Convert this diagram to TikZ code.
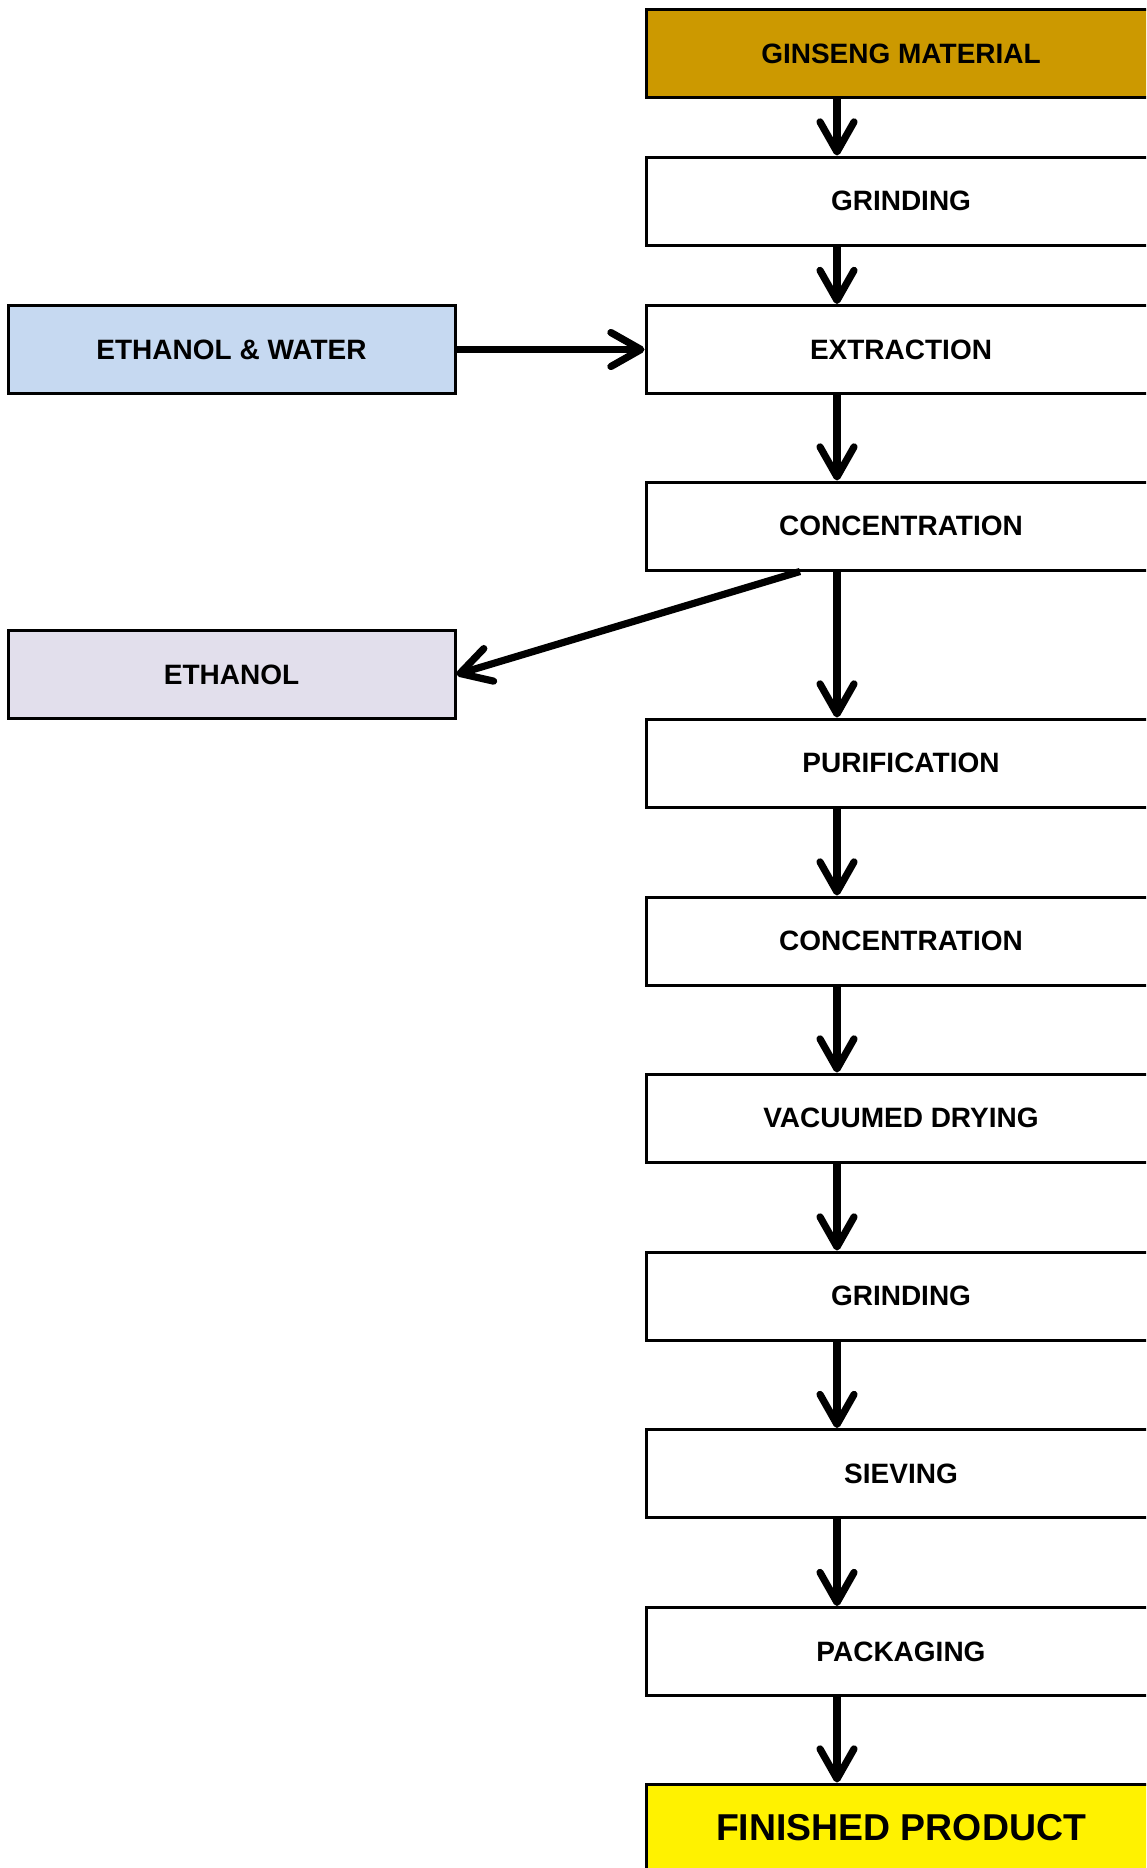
\documentclass[tikz,border=0pt]{standalone}
\usepackage{fontspec}
\setmainfont{Liberation Sans}
\usetikzlibrary{arrows.meta}

\definecolor{ginseng}{HTML}{CC9900}
\definecolor{solvent}{HTML}{C6D9F1}
\definecolor{recovered}{HTML}{E2DFEC}

\begin{document}
\begin{tikzpicture}[x=0.5pt, y=-0.5pt, >={Straight Barb[length=15pt, width=17pt, round]},
    every node/.style={draw, line width=1.5pt, minimum height=44pt, inner sep=0pt, font=\bfseries\fontsize{14}{17}\selectfont},
    stage/.style={minimum width=255pt},
    feed/.style={minimum width=223.5pt},
    flow/.style={->, line width=3.6pt}]
    \useasboundingbox (0,0) rectangle (1146,1868);
    \clip (0,0) rectangle (1146,1868);

    % Define process steps
    \node[stage, fill=ginseng] (s1) at (901, 53.5) {GINSENG MATERIAL};
    \node[stage] (s2) at (901, 201) {GRINDING};
    \node[stage] (s3) at (901, 349.5) {EXTRACTION};
    \node[stage] (s4) at (901, 526) {CONCENTRATION};
    \node[stage] (s5) at (901, 763) {PURIFICATION};
    \node[stage] (s6) at (901, 941) {CONCENTRATION};
    \node[stage] (s7) at (901, 1118) {VACUUMED DRYING};
    \node[stage] (s8) at (901, 1296) {GRINDING};
    \node[stage] (s9) at (901, 1473.5) {SIEVING};
    \node[stage] (s10) at (901, 1651.5) {PACKAGING};
    \node[stage, fill=yellow, font=\bfseries\fontsize{18.7}{22}\selectfont] (s11) at (901, 1828) {FINISHED PRODUCT};

    % Side streams
    \node[feed, fill=solvent] (ew) at (231.5, 349.5) {ETHANOL \& WATER};
    \node[feed, fill=recovered] (eth) at (231.5, 674.5) {ETHANOL};

    % Draw flow
    \foreach \a/\b in {s1/s2, s2/s3, s3/s4, s4/s5, s5/s6, s6/s7, s7/s8, s8/s9, s9/s10, s10/s11}
        \draw[flow] ([xshift=-32pt]\a.south) -- ([xshift=-32pt]\b.north);
    \draw[flow] (ew.east) -- (s3.west); % solvent in
    \draw[flow] ([xshift=-50.5pt]s4.south) -- (eth.east); % ethanol recovered
\end{tikzpicture}
\end{document}
